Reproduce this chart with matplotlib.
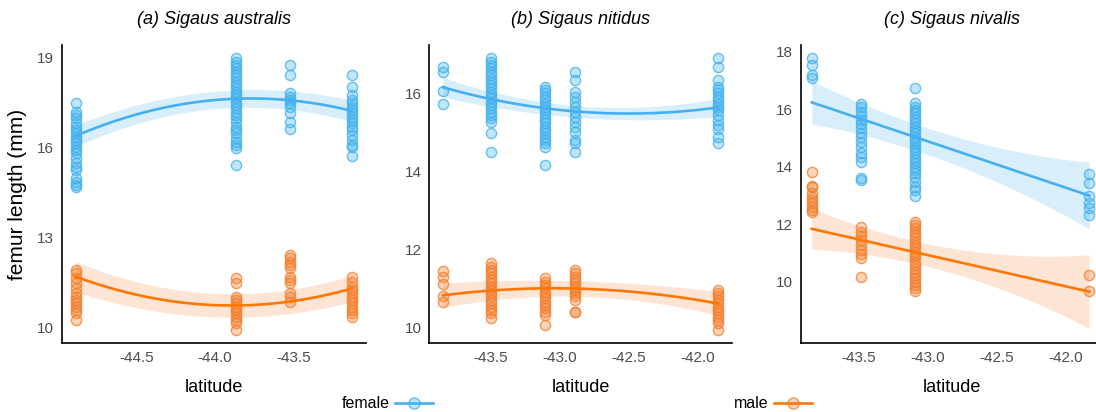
import numpy as np
import matplotlib
matplotlib.use("Agg")
import matplotlib.pyplot as plt
from matplotlib.lines import Line2D
from matplotlib.colors import to_rgba

plt.rcParams['font.family'] = ['Liberation Sans', 'DejaVu Sans']

# ---------------- data ----------------
titles = ["(a) Sigaus australis", "(b) Sigaus nitidus", "(c) Sigaus nivalis"]
sexes = ["female", "male"]
ylabel = "femur length (mm)"
xlabel = "latitude"

# panel a -- Sigaus australis
a_lat = [-44.885, -43.867, -43.52, -43.13]
a_female = [
    [17.49, 17.19, 17.08, 16.97, 16.80, 16.69, 16.58, 16.47, 16.35, 16.24, 16.13, 16.02,
     15.91, 15.80, 15.63, 15.47, 15.35, 15.24, 14.97, 14.85, 14.74, 14.67],
    [18.97, 18.85, 18.74, 18.63, 18.52, 18.41, 18.30, 18.19, 18.08, 17.97, 17.85, 17.74,
     17.63, 17.52, 17.41, 17.30, 17.19, 17.08, 16.97, 16.85, 16.69, 16.58, 16.47, 16.30,
     16.19, 16.08, 15.97, 15.41],
    [18.74, 18.41, 17.80, 17.69, 17.58, 17.47, 17.35, 17.13, 16.85, 16.60],
    [18.41, 18.02, 17.74, 17.58, 17.47, 17.35, 17.24, 17.13, 17.02, 16.91, 16.80, 16.69,
     16.58, 16.41, 16.24, 16.08, 16.02, 15.71],
]
a_male = [
    [11.91, 11.80, 11.63, 11.47, 11.30, 11.13, 11.02, 10.91, 10.80, 10.69, 10.58, 10.47, 10.24],
    [11.63, 11.47, 11.02, 10.91, 10.80, 10.69, 10.58, 10.47, 10.35, 10.24, 10.13, 9.91],
    [12.41, 12.30, 12.19, 12.08, 11.97, 11.69, 11.58, 11.47, 11.13, 11.02, 10.85],
    [11.69, 11.52, 11.35, 11.24, 11.13, 11.02, 10.91, 10.80, 10.69, 10.58, 10.47, 10.35],
]
a_fit_lat = [-44.885, -43.867, -43.52, -43.13]
a_fit_female = [16.38, 17.61, 17.58, 17.21]
a_ci_female = [0.36, 0.30, 0.30, 0.36]
a_fit_male = [11.69, 10.74, 10.85, 11.30]
a_ci_male = [0.50, 0.39, 0.40, 0.44]
a_yticks = [10, 13, 16, 19]
a_xticks = [-44.5, -44.0, -43.5]

# panel b -- Sigaus nitidus
b_lat = [-43.85, -43.5, -43.11, -42.89, -41.85]
b_female = [
    [16.68, 16.55, 16.07, 15.73],
    [16.90, 16.81, 16.73, 16.64, 16.55, 16.47, 16.38, 16.30, 16.21, 16.13, 16.04, 15.96,
     15.87, 15.79, 15.70, 15.62, 15.53, 15.45, 15.36, 15.27, 14.98, 14.51],
    [16.17, 16.09, 16.00, 15.91, 15.83, 15.74, 15.66, 15.57, 15.49, 15.40, 15.32, 15.23,
     15.15, 15.06, 14.98, 14.89, 14.81, 14.72, 14.63, 14.17],
    [16.55, 16.34, 16.04, 15.91, 15.79, 15.66, 15.53, 15.40, 15.27, 15.15, 15.02, 14.81,
     14.72, 14.51],
    [16.90, 16.67, 16.34, 16.17, 16.09, 16.00, 15.91, 15.83, 15.74, 15.66, 15.57, 15.45,
     15.32, 15.19, 15.10, 14.89, 14.72],
]
b_male = [
    [11.46, 11.30, 11.11, 10.82, 10.67],
    [11.65, 11.56, 11.48, 11.39, 11.31, 11.22, 11.14, 11.05, 10.97, 10.88, 10.80, 10.71,
     10.62, 10.54, 10.45, 10.37, 10.24],
    [11.26, 11.18, 11.09, 11.01, 10.92, 10.84, 10.75, 10.67, 10.58, 10.50, 10.41, 10.33, 10.07],
    [11.48, 11.39, 11.31, 11.22, 11.14, 11.05, 10.97, 10.88, 10.80, 10.71, 10.41, 10.39],
    [10.97, 10.88, 10.80, 10.71, 10.62, 10.54, 10.45, 10.37, 10.28, 10.20, 10.11, 9.94],
]
b_fit_lat = [-43.85, -43.5, -43.11, -42.89, -41.85]
b_fit_female = [16.15, 15.87, 15.60, 15.55, 15.64]
b_ci_female = [0.26, 0.17, 0.16, 0.16, 0.23]
b_fit_male = [10.82, 10.97, 11.01, 10.99, 10.62]
b_ci_male = [0.34, 0.20, 0.20, 0.23, 0.30]
b_yticks = [10, 12, 14, 16]
b_xticks = [-43.5, -43.0, -42.5, -42.0]

# panel c -- Sigaus nivalis
c_lat = [-43.84, -43.48, -43.09, -41.83]
c_female = [
    [17.77, 17.54, 17.19, 17.07],
    [16.18, 16.06, 15.91, 15.76, 15.62, 15.48, 15.33, 15.18, 15.04, 14.87, 14.70, 14.46,
     14.35, 14.17, 13.59, 13.54],
    [16.75, 16.20, 16.09, 15.97, 15.86, 15.74, 15.62, 15.51, 15.39, 15.28, 15.16, 15.04,
     14.93, 14.81, 14.70, 14.58, 14.46, 14.35, 14.23, 14.12, 14.00, 13.88, 13.77, 13.65,
     13.48, 13.30, 13.19, 12.99],
    [13.74, 13.42, 12.99, 12.72, 12.55, 12.32],
]
c_male = [
    [13.80, 13.33, 13.31, 13.07, 12.96, 12.84, 12.72, 12.61, 12.49, 12.43],
    [11.89, 11.74, 11.59, 11.45, 11.28, 11.10, 10.96, 10.81, 10.15],
    [12.09, 11.97, 11.86, 11.74, 11.62, 11.51, 11.39, 11.28, 11.16, 11.04, 10.93, 10.81,
     10.70, 10.58, 10.46, 10.35, 10.23, 10.12, 10.00, 9.88, 9.77, 9.69],
    [10.23, 9.69],
]
c_fit_lat = [-43.84, -43.09, -41.83]
c_fit_female = [16.26, 14.99, 13.01]
c_ci_female = [0.75, 0.46, 1.16]
c_fit_male = [11.83, 11.04, 9.65]
c_ci_male = [0.71, 0.39, 1.28]
c_yticks = [10, 12, 14, 16, 18]
c_xticks = [-43.5, -43.0, -42.5, -42.0]

# ---------------- style ----------------
W, H = 1096, 412
colors = {"female": "#3DB0EE", "male": "#F57C28"}
line_colors = {"female": "#45AFF2", "male": "#FF7700"}

panels = [
    dict(lat=a_lat, female=a_female, male=a_male, fit_lat=a_fit_lat,
         fit_female=a_fit_female, ci_female=a_ci_female, fit_male=a_fit_male, ci_male=a_ci_male,
         deg=2, yticks=a_yticks, xticks=a_xticks, xlim=(-44.975, -43.04), ylim=(9.47, 19.41),
         px=(61.5, 366)),
    dict(lat=b_lat, female=b_female, male=b_male, fit_lat=b_fit_lat,
         fit_female=b_fit_female, ci_female=b_ci_female, fit_male=b_fit_male, ci_male=b_ci_male,
         deg=2, yticks=b_yticks, xticks=b_xticks, xlim=(-43.95, -41.75), ylim=(9.6, 17.24),
         px=(429.3, 731.7)),
    dict(lat=c_lat, female=c_female, male=c_male, fit_lat=c_fit_lat,
         fit_female=c_fit_female, ci_female=c_ci_female, fit_male=c_fit_male, ci_male=c_ci_male,
         deg=1, yticks=c_yticks, xticks=c_xticks, xlim=(-43.92, -41.73), ylim=(7.86, 18.23),
         px=(800.7, 1103)),
]

fig = plt.figure(figsize=(W / 100, H / 100), dpi=100)
top_px, bot_px = 45, 343.3

for i, p in enumerate(panels):
    l, r = p["px"]
    ax = fig.add_axes([l / W, (H - bot_px) / H, (r - l) / W, (bot_px - top_px) / H])
    for sex in sexes:
        c = colors[sex]
        xs, ys = [], []
        for lat, vals in zip(p["lat"], p[sex]):
            xs.extend([lat] * len(vals))
            ys.extend(vals)
        ax.scatter(xs, ys, s=54, facecolors=[to_rgba(c, 0.33)],
                   edgecolors=[to_rgba(c, 0.75)], linewidths=1.0, zorder=2)
        fl = np.array(p["fit_lat"])
        xx = np.linspace(min(p["lat"]), max(p["lat"]), 200)
        fit = np.polyval(np.polyfit(fl, p["fit_" + sex], p["deg"]), xx)
        hw = np.polyval(np.polyfit(fl, p["ci_" + sex], 2), xx)
        ax.fill_between(xx, fit - hw, fit + hw, color=c, alpha=0.2, lw=0, zorder=3)
        ax.plot(xx, fit, color=line_colors[sex], lw=1.9, zorder=4)
    ax.set_xlim(*p["xlim"])
    ax.set_ylim(*p["ylim"])
    ax.set_xticks(p["xticks"])
    ax.set_xticklabels([f"{t:.1f}" for t in p["xticks"]])
    ax.set_yticks(p["yticks"])
    for s in ["top", "right"]:
        ax.spines[s].set_visible(False)
    for s in ["left", "bottom"]:
        ax.spines[s].set_linewidth(1.2)
        ax.spines[s].set_color("black")
    ax.tick_params(length=0, labelsize=11, labelcolor="#4D4D4D", pad=5.5)
    ax.set_xlabel(xlabel, fontsize=13, labelpad=10)
    ax.set_facecolor("none")
    fig.text((l + r) / 2 / W, (H - 20) / H, titles[i], ha="center", va="center",
             fontsize=13, style="italic")

fig.text(18 / W, (H - (top_px + bot_px) / 2) / H, ylabel, rotation=90,
         ha="center", va="center", fontsize=15)

for sex, cx in [("female", 387.5), ("male", 773)]:
    c = colors[sex]
    h = Line2D([], [], color=line_colors[sex], lw=1.9, marker="o", markersize=8,
               markerfacecolor=to_rgba(c, 0.33), markeredgecolor=to_rgba(c, 0.75))
    fig.legend([h], [sex], loc="center", bbox_to_anchor=(cx / W, (H - 404) / H),
               frameon=False, markerfirst=False, handlelength=2.4, handletextpad=0.3,
               fontsize=11.5, borderpad=0, borderaxespad=0)

fig.savefig("out.png", dpi=100)
